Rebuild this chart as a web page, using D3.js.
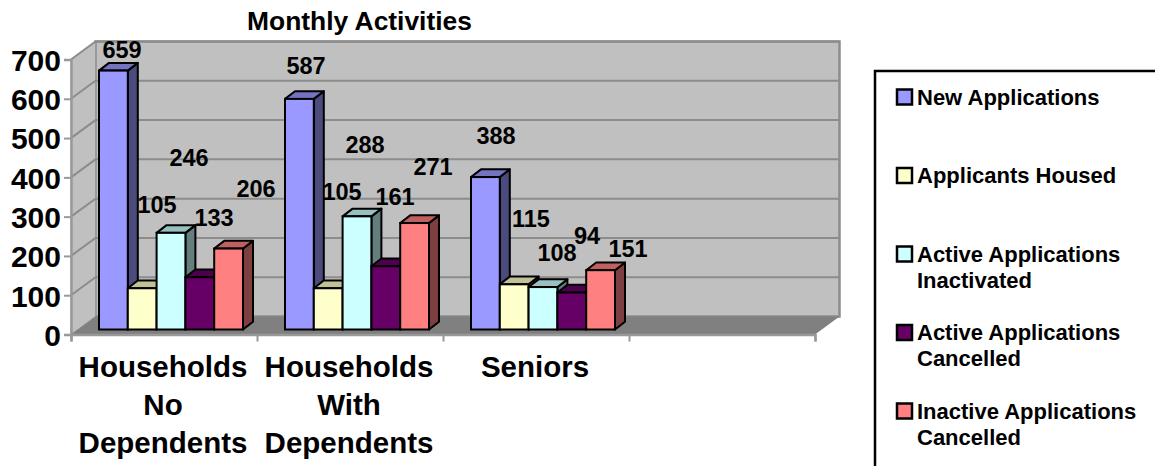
<!DOCTYPE html>
<html lang="en">
<head>
<meta charset="utf-8">
<title>Monthly Activities</title>
<script src="https://d3js.org/d3.v7.min.js"></script>
<style>
  html, body { margin: 0; padding: 0; background: #fff; overflow: hidden; }
  svg { display: block; }
  text { font-family: "Liberation Sans", Arial, sans-serif; font-weight: bold; fill: #000; }
</style>
</head>
<body>
<div id="chart"></div>
<script>
// chart values
var categories = ["Households No Dependents", "Households With Dependents", "Seniors", ""];
var categoryLines = [["Households", "No", "Dependents"], ["Households", "With", "Dependents"], ["Seniors"], []];
var seriesNames = ["New Applications", "Applicants Housed", "Active Applications Inactivated", "Active Applications Cancelled", "Inactive Applications Cancelled"];
var legendLines = [["New Applications"], ["Applicants Housed"], ["Active Applications", "Inactivated"], ["Active Applications", "Cancelled"], ["Inactive Applications", "Cancelled"]];
var newApplications = [659, 587, 388];
var applicantsHoused = [105, 105, 115];
var activeInactivated = [246, 288, 108];
var activeCancelled = [133, 161, 94];
var inactiveCancelled = [206, 271, 151];
var yTicks = [0, 100, 200, 300, 400, 500, 600, 700];
var seriesColors = ["#9999FF", "#FFFFCC", "#CCFFFF", "#660066", "#FF8080"];

// labels in the original sit well away from their bars, so nudge each one [dx, dy] per series and group
var labelNudge = [
  [[8.6, -12.5], [6.6, -24.8], [10.6, -32.7]],
  [[14.8, -75], [13.8, -88.6], [16.8, -57.2]],
  [[18, -66.6], [8, -63], [14, -26]],
  [[14.2, -51], [9.2, -61], [15.2, -48.5]],
  [[27.4, -51.4], [18.4, -47.8], [27.4, -13]]
];

var allSeries = [newApplications, applicantsHoused, activeInactivated, activeCancelled, inactiveCancelled];

var width = 1155, height = 466;
var depthX = 24.5, depthY = -18;   // wall depth
var barDepthX = 10, barDepthY = -7.7;
var gridColor = "#8C8C8C", axisColor = "#999999";

var svg = d3.select("#chart").append("svg")
  .attr("width", width)
  .attr("height", height);

var yScale = d3.scaleLinear().domain([0, 700]).range([334.5, 59.5]);
var xScale = d3.scaleBand().domain(categories).range([71, 815]);
var xEdges = d3.scaleLinear().domain([0, 4]).range([71, 815]);
var inner = d3.scaleBand().domain(d3.range(seriesNames.length))
  .range([28, 28 + 144]);
var barBase = -5;  // bars stand a little behind the front edge of the floor

function pts(a) { return a.map(function(p) { return p.join(","); }).join(" "); }

// title
svg.append("text")
  .attr("x", 359.5).attr("y", 30)
  .attr("text-anchor", "middle")
  .style("font-size", "26.4px")
  .text("Monthly Activities");

// walls and floor
var x0 = xEdges(0), x1 = xEdges(4), y0 = yScale(0), yTop = yScale(700);
svg.append("polygon")
  .attr("points", pts([[x0 + depthX, y0 + depthY], [x0 + depthX, yTop + depthY], [x1 + depthX, yTop + depthY], [x1 + depthX, y0 + depthY]]))
  .attr("fill", "#C0C0C0").attr("stroke", gridColor).attr("stroke-width", 2.5);
svg.append("polygon")
  .attr("points", pts([[x0, y0], [x0, yTop], [x0 + depthX, yTop + depthY], [x0 + depthX, y0 + depthY]]))
  .attr("fill", "#C0C0C0").attr("stroke", axisColor).attr("stroke-width", 1);
svg.append("polygon")
  .attr("points", pts([[x0, y0], [x0 + depthX, y0 + depthY], [x1 + depthX, y0 + depthY], [x1, y0]]))
  .attr("fill", "#808080");

// gridlines
svg.selectAll(".grid")
  .data(yTicks.slice(1))
  .enter().append("polyline")
  .attr("class", "grid")
  .attr("fill", "none")
  .attr("stroke", gridColor)
  .attr("stroke-width", 2)
  .attr("points", function(d) {
    return pts([[x0, yScale(d)], [x0 + depthX, yScale(d) + depthY], [x1 + depthX, yScale(d) + depthY]]);
  });

// axes
var yAxis = d3.axisLeft(yScale).tickValues(yTicks).tickSize(7).tickPadding(3);
var yG = svg.append("g").attr("transform", "translate(" + x0 + ",0)").call(yAxis);
yG.selectAll("text").style("font-size", "30px").attr("dy", "0.36em");

var xAxis = d3.axisBottom(xEdges).ticks(4).tickSize(7).tickFormat("");
var xG = svg.append("g").attr("transform", "translate(0," + y0 + ")").call(xAxis);

svg.selectAll(".domain").attr("stroke", axisColor).attr("stroke-width", 2.5);
svg.selectAll(".tick line").attr("stroke", axisColor).attr("stroke-width", 2);

// category labels, wrapped
categories.forEach(function(c, i) {
  svg.selectAll(".cat" + i)
    .data(categoryLines[i])
    .enter().append("text")
    .attr("class", "cat" + i)
    .attr("x", xScale(c) + xScale.bandwidth() / 2 - 1)
    .attr("y", function(d, j) { return 377 + j * 38; })
    .attr("text-anchor", "middle")
    .style("font-size", "29.5px")
    .text(function(d) { return d; });
});

// bars, left to right so each one covers its neighbour's side
var bars = [];
categories.slice(0, 3).forEach(function(c, g) {
  allSeries.forEach(function(vals, s) {
    bars.push({cat: c, group: g, series: s, value: vals[g]});
  });
});

var barG = svg.selectAll(".bar")
  .data(bars)
  .enter().append("g")
  .attr("class", "bar");

function bx(d) { return xScale(d.cat) + inner(d.series); }
function by(d) { return yScale(d.value) + barBase; }
var bw = inner.bandwidth();
var base = yScale(0) + barBase;

barG.append("polygon")
  .attr("points", function(d) {
    var x = bx(d) + bw, y = by(d);
    return pts([[x, y], [x + barDepthX, y + barDepthY], [x + barDepthX, base + barDepthY], [x, base]]);
  })
  .attr("fill", function(d) { return d3.rgb(seriesColors[d.series]).darker(2); })
  .attr("stroke", "#000").attr("stroke-width", 2).attr("stroke-linejoin", "round");

barG.append("polygon")
  .attr("points", function(d) {
    var x = bx(d), y = by(d);
    return pts([[x, y], [x + barDepthX, y + barDepthY], [x + bw + barDepthX, y + barDepthY], [x + bw, y]]);
  })
  .attr("fill", function(d) { return d3.rgb(seriesColors[d.series]).darker(0.8); })
  .attr("stroke", "#000").attr("stroke-width", 2).attr("stroke-linejoin", "round");

barG.append("rect")
  .attr("x", bx)
  .attr("y", by)
  .attr("width", bw)
  .attr("height", function(d) { return base - by(d); })
  .attr("fill", function(d) { return seriesColors[d.series]; })
  .attr("stroke", "#000").attr("stroke-width", 2);

// data labels
svg.selectAll(".value")
  .data(bars)
  .enter().append("text")
  .attr("class", "value")
  .attr("x", function(d) { return bx(d) + bw / 2 + labelNudge[d.series][d.group][0]; })
  .attr("y", function(d) { return by(d) + labelNudge[d.series][d.group][1]; })
  .attr("text-anchor", "middle")
  .style("font-size", "23.5px")
  .text(function(d) { return d.value; });

// legend box runs off the page on the right and bottom, same as the original
svg.append("rect")
  .attr("x", 875).attr("y", 71)
  .attr("width", 320).attr("height", 440)
  .attr("fill", "#fff").attr("stroke", "#000").attr("stroke-width", 2.5);

var legendY = d3.scalePoint().domain(seriesNames).range([97, 411]);

var legend = svg.selectAll(".legend")
  .data(seriesNames)
  .enter().append("g")
  .attr("class", "legend")
  .attr("transform", function(d) { return "translate(897," + legendY(d) + ")"; });

legend.append("rect")
  .attr("x", 0).attr("y", -7.5)
  .attr("width", 15).attr("height", 15)
  .attr("fill", function(d, i) { return seriesColors[i]; })
  .attr("stroke", "#000").attr("stroke-width", 2.5);

legend.each(function(d, i) {
  d3.select(this).selectAll("text")
    .data(legendLines[i])
    .enter().append("text")
    .attr("x", 20)
    .attr("y", function(l, j) { return 7.5 + j * 26; })
    .style("font-size", "22px")
    .text(function(l) { return l; });
});
</script>
</body>
</html>
